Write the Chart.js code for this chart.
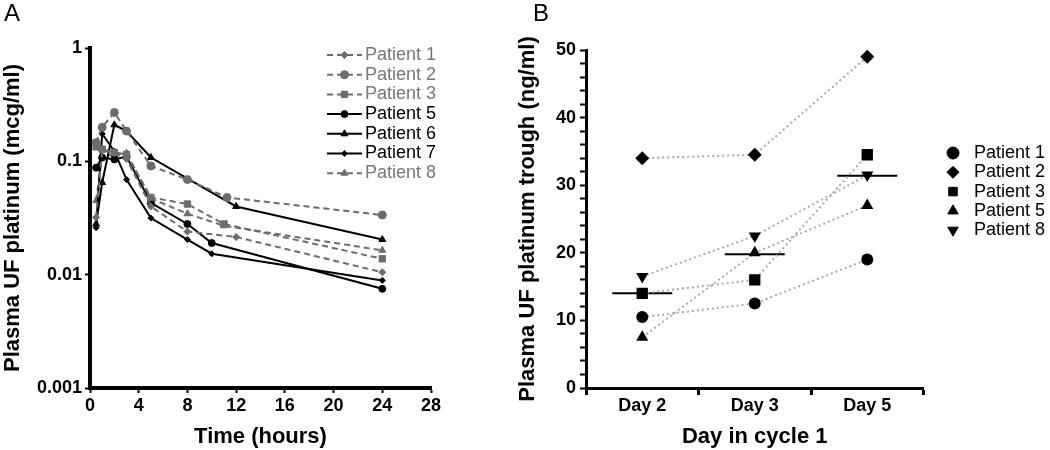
<!DOCTYPE html>
<html>
<head>
<meta charset="utf-8">
<script src="https://cdn.jsdelivr.net/npm/chart.js@4.4.1/dist/chart.umd.min.js"></script>
<style>
  body { margin: 0; background: #fff; }
  #wrap { position: relative; width: 1050px; height: 450px; overflow: hidden; }
  .panel { position: absolute; top: 0; height: 450px; }
  #panelA { left: 0; width: 520px; }
  #panelB { left: 515px; width: 535px; }
  .tag { position: absolute; top: -1px; font: 24px "Liberation Sans", Arial, sans-serif; line-height: 28px; }
</style>
</head>
<body>
<div id="wrap">
  <div class="panel" id="panelA"><canvas id="chartA" width="520" height="450"></canvas></div>
  <div class="panel" id="panelB"><canvas id="chartB" width="535" height="450"></canvas></div>
  <div class="tag" style="left:4px">A</div>
  <div class="tag" style="left:533px">B</div>
</div>
<script>
// ---- panel A data: plasma UF platinum over time ----
const patientsA = ['Patient 1', 'Patient 2', 'Patient 3', 'Patient 5', 'Patient 6', 'Patient 7', 'Patient 8'];
const hoursA = [
  [0.5, 1, 2, 3, 5, 8, 12, 24],
  [0.5, 1, 2, 3, 5, 8, 11.25, 24],
  [0.5, 1, 2, 3, 5, 8, 11, 24],
  [0.5, 1, 2, 3, 5, 8, 10, 24],
  [0.5, 1, 2, 3, 5, 12, 24],
  [0.5, 1, 2, 3, 5, 8, 10, 24],
  [0.5, 1, 2, 3, 5, 8, 11, 24]
];
const concA = [
  [0.032, 0.125, 0.118, 0.105, 0.040, 0.024, 0.0215, 0.0105],
  [0.146, 0.20, 0.27, 0.185, 0.091, 0.069, 0.048, 0.0336],
  [0.134, 0.128, 0.12, 0.115, 0.048, 0.042, 0.028, 0.0138],
  [0.088, 0.108, 0.104, 0.110, 0.043, 0.028, 0.019, 0.0075],
  [0.028, 0.065, 0.21, 0.185, 0.108, 0.040, 0.0204],
  [0.026, 0.175, 0.123, 0.069, 0.0316, 0.0204, 0.0153, 0.0089],
  [0.045, 0.11, 0.115, 0.118, 0.047, 0.0345, 0.027, 0.0164]
];
const timeTicks = [0, 4, 8, 12, 16, 20, 24, 28];
const concTicks = [0.001, 0.01, 0.1, 1];

// ---- panel B data: trough levels per day ----
const dayLabels = ['Day 2', 'Day 3', 'Day 5'];
const patientsB = ['Patient 1', 'Patient 2', 'Patient 3', 'Patient 5', 'Patient 8'];
const troughB = [
  [10.5, 12.5, 19],
  [34, 34.5, 49],
  [14, 16, 34.5],
  [7.5, 20, 27],
  [16.5, 22.5, 31.5]
];
const medianB = [14, 19.8, 31.4];
const troughTicks = [0, 10, 20, 30, 40, 50];

Chart.defaults.font.family = "'Liberation Sans', Arial, sans-serif";
Chart.defaults.color = '#000';

const GRAY = '#6c6c6c';

// styles for panel A lines (dashed gray vs solid black)
const styleA = [
  { dash: [6, 4], color: GRAY, text: '#777', point: 'rectRot', r: 3.5 },
  { dash: [6, 4], color: GRAY, text: '#777', point: 'circle', r: 4 },
  { dash: [6, 4], color: GRAY, text: '#777', point: 'rect', r: 4.5 },
  { dash: [], color: '#000', text: '#000', point: 'circle', r: 3.5 },
  { dash: [], color: '#000', text: '#000', point: 'triangle', r: 4 },
  { dash: [], color: '#000', text: '#000', point: 'rectRot', r: 3 },
  { dash: [6, 4], color: GRAY, text: '#777', point: 'triangle', r: 4 }
];
const styleB = [
  { point: 'circle', r: 6, rot: 0 },
  { point: 'rectRot', r: 7, rot: 0 },
  { point: 'rect', r: 8, rot: 0 },
  { point: 'triangle', r: 7, rot: 0 },
  { point: 'triangle', r: 7, rot: 180 }
];

// simple legend drawn at a fixed spot
const sideLegend = {
  id: 'sideLegend',
  afterDraw(chart) {
    const o = chart.options.plugins.sideLegend;
    const ctx = chart.ctx;
    ctx.save();
    ctx.font = o.font;
    ctx.textBaseline = 'middle';
    let y = o.y;
    chart.data.datasets.forEach(ds => {
      if (ds.noLegend) return;
      let mx = o.markerX;
      if (o.lineLength) {
        ctx.beginPath();
        ctx.setLineDash(ds.borderDash || []);
        ctx.strokeStyle = ds.borderColor;
        ctx.lineWidth = ds.borderWidth;
        ctx.moveTo(o.x, y);
        ctx.lineTo(o.x + o.lineLength, y);
        ctx.stroke();
        ctx.setLineDash([]);
        mx = o.x + o.lineLength / 2;
      }
      ctx.fillStyle = ds.pointBackgroundColor;
      ctx.strokeStyle = ds.pointBorderColor;
      ctx.lineWidth = 1;
      Chart.helpers.drawPoint(ctx, {
        pointStyle: ds.pointStyle,
        radius: o.pointRadius || ds.pointRadius,
        rotation: ds.pointRotation || 0,
        borderWidth: 1
      }, mx, y);
      ctx.fillStyle = ds.textColor || '#000';
      ctx.fillText(ds.label, o.textX, y);
      y += o.spacing;
    });
    ctx.restore();
  }
};

new Chart(document.getElementById('chartA'), {
  type: 'line',
  data: {
    datasets: patientsA.map((name, i) => ({
      label: name,
      data: hoursA[i].map((h, j) => ({ x: h, y: concA[i][j] })),
      borderColor: styleA[i].color,
      borderDash: styleA[i].dash,
      borderWidth: 2,
      pointStyle: styleA[i].point,
      pointRadius: styleA[i].r,
      pointBackgroundColor: styleA[i].color,
      pointBorderColor: styleA[i].color,
      pointBorderWidth: 1,
      textColor: styleA[i].text,
      tension: 0
    }))
  },
  options: {
    responsive: false,
    animation: false,
    layout: { padding: { left: 0, top: 48, right: 89, bottom: 0 } },
    plugins: {
      legend: { display: false },
      tooltip: { enabled: false },
      sideLegend: { x: 327, lineLength: 35, textX: 365, y: 55, spacing: 19.7, font: "18px 'Liberation Sans', Arial, sans-serif" }
    },
    scales: {
      x: {
        type: 'linear',
        min: 0, max: 28,
        afterBuildTicks: s => { s.ticks = timeTicks.map(v => ({ value: v })); },
        afterFit: s => { s.height = 62; },
        border: { width: 4, color: '#000' },
        grid: { drawOnChartArea: false, tickLength: 5, tickWidth: 2, color: '#000' },
        ticks: { font: { size: 18, weight: 'bold' }, padding: 2, maxRotation: 0 },
        title: { display: true, text: 'Time (hours)', font: { size: 22, weight: 'bold' }, padding: 0 }
      },
      y: {
        type: 'logarithmic',
        min: 0.001, max: 1,
        afterBuildTicks: s => { s.ticks = concTicks.map(v => ({ value: v })); },
        afterFit: s => { s.width = 90; },
        border: { width: 4, color: '#000' },
        grid: { drawOnChartArea: false, tickLength: 5, tickWidth: 2, color: '#000' },
        ticks: { font: { size: 18, weight: 'bold' }, padding: 3, callback: v => String(v) },
        title: { display: true, text: 'Plasma UF platinum (mcg/ml)', font: { size: 22, weight: 'bold' }, padding: 0 }
      }
    }
  },
  plugins: [sideLegend]
});

const bDatasets = patientsB.map((name, i) => ({
  label: name,
  data: troughB[i],
  showLine: true,
  borderColor: '#a9a9a9',
  borderDash: [2, 3],
  borderWidth: 2,
  pointStyle: styleB[i].point,
  pointRadius: styleB[i].r,
  pointRotation: styleB[i].rot,
  pointBackgroundColor: '#000',
  pointBorderColor: '#000',
  pointBorderWidth: 0
}));
bDatasets.push({
  label: 'Median',
  data: medianB,
  showLine: false,
  noLegend: true,
  pointStyle: 'line',
  pointRadius: 30,
  pointBorderColor: '#000',
  pointBorderWidth: 2
});

new Chart(document.getElementById('chartB'), {
  type: 'line',
  data: { labels: dayLabels, datasets: bDatasets },
  options: {
    responsive: false,
    animation: false,
    layout: { padding: { left: 0, top: 50, right: 126.5, bottom: 0 } },
    plugins: {
      legend: { display: false },
      tooltip: { enabled: false },
      sideLegend: { markerX: 438, textX: 459, y: 153, spacing: 19.3, pointRadius: 6, font: "18px 'Liberation Sans', Arial, sans-serif" }
    },
    scales: {
      x: {
        type: 'category',
        offset: true,
        afterFit: s => { s.height = 62; },
        border: { width: 3, color: '#000' },
        grid: { offset: true, drawOnChartArea: false, tickLength: 7, tickWidth: 3, color: '#000' },
        ticks: { font: { size: 18, weight: 'bold' }, padding: 0 },
        title: { display: true, text: 'Day in cycle 1', font: { size: 22, weight: 'bold' }, padding: 0 }
      },
      y: {
        min: 0, max: 50,
        afterBuildTicks: s => {
          const t = [];
          for (let v = 0; v <= 50; v += 2) t.push({ value: v });
          s.ticks = t;
        },
        afterFit: s => { s.width = 71; },
        border: { width: 3, color: '#000' },
        grid: { drawOnChartArea: false, tickLength: 6, tickWidth: 2, color: '#000' },
        ticks: { font: { size: 18, weight: 'bold' }, padding: 4, autoSkip: false,
                 callback: v => troughTicks.includes(v) ? String(v) : '' },
        title: { display: true, text: 'Plasma UF platinum trough (ng/ml)', font: { size: 22, weight: 'bold' }, padding: 0 }
      }
    }
  },
  plugins: [sideLegend]
});
</script>
</body>
</html>
